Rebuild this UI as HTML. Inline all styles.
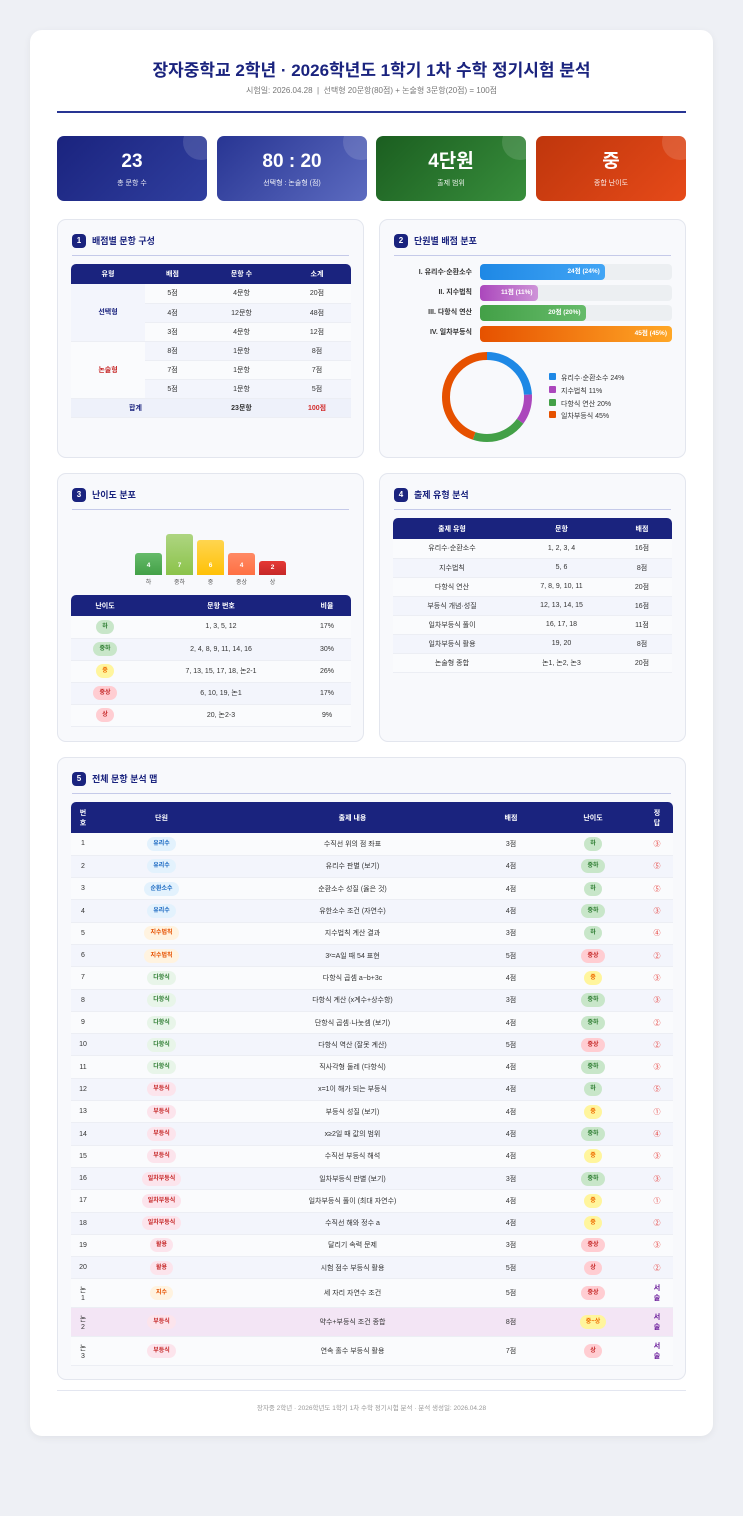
<!DOCTYPE html>
<html><head><meta charset="utf-8">
<style>
*{box-sizing:border-box;margin:0;padding:0}
body{width:743px;height:1516px;background:#eef0f5;font-family:"Liberation Sans","Noto Sans CJK KR",sans-serif;color:#333;position:relative;overflow:hidden}
.card{position:absolute;left:30px;top:30px;width:683px;height:1406px;background:#fff;border-radius:12px;box-shadow:0 2px 8px rgba(0,0,0,.06)}
.abs{position:absolute}
h1{position:absolute;left:0;width:743px;top:56px;text-align:center;font-size:17px;color:#1a237e;font-weight:bold}
.sub{position:absolute;left:0;width:743px;top:85px;text-align:center;font-size:8px;color:#777}
.rule{position:absolute;left:57px;width:629px;top:111px;height:2px;background:#283593}
.stat{position:absolute;top:136px;width:150px;height:65px;border-radius:7px;color:#fff;text-align:center;overflow:hidden}
.stat b{display:block;margin-top:15px;font-size:19px;line-height:22px}
.stat span{display:block;font-size:7px;margin-top:5px;opacity:.9}
.stat i{position:absolute;right:-12px;top:-12px;width:36px;height:36px;border-radius:50%;background:rgba(255,255,255,.13)}
.panel{position:absolute;background:#f8f9fc;border:1px solid #e3e6ee;border-radius:9px}
.ph{position:absolute;left:14px;top:14px;font-size:9px;font-weight:bold;color:#1a237e;line-height:14px}
.ph em{display:inline-block;width:14px;height:14px;border-radius:4px;background:#1a237e;color:#fff;font-style:normal;text-align:center;font-size:8px;margin-right:6px;vertical-align:top}
.pl{position:absolute;left:14px;right:14px;top:35px;height:1px;background:#c5cae9}
table{border-collapse:collapse;table-layout:fixed;position:absolute;font-size:7px;text-align:center}
th{background:#1a237e;color:#fff;font-weight:bold}
td{border-bottom:1px solid #eceef4}
tr:nth-child(odd) td{background:#f3f5fc}
tr:nth-child(even) td{background:#fafbfd}
.pill{display:inline-block;border-radius:8px;padding:0 6px;line-height:14px;font-size:6px;font-weight:bold}
.g{background:#c8e6c9;color:#2e7d32}.y{background:#fff59d;color:#ef6c00}.r{background:#ffcdd2;color:#c62828}
.ub{background:#e3f2fd;color:#1565c0}.uo{background:#fff3e0;color:#e65100}.ug{background:#e8f5e9;color:#2e7d32}.ur{background:#fce4ec;color:#c62828}
.ans{color:#e53935;font-size:7px}
</style></head><body>
<div class="card"></div>
<h1>장자중학교 2학년 · 2026학년도 1학기 1차 수학 정기시험 분석</h1>
<div class="sub">시험일: 2026.04.28 &nbsp;|&nbsp; 선택형 20문항(80점) + 논술형 3문항(20점) = 100점</div>
<div class="rule"></div>

<div class="stat" style="left:57px;background:linear-gradient(135deg,#1a237e,#303f9f)"><i></i><b>23</b><span>총 문항 수</span></div>
<div class="stat" style="left:217px;background:linear-gradient(135deg,#283593,#5c6bc0)"><i></i><b>80 : 20</b><span>선택형 : 논술형 (점)</span></div>
<div class="stat" style="left:376px;background:linear-gradient(135deg,#1b5e20,#388e3c)"><i></i><b>4단원</b><span>출제 범위</span></div>
<div class="stat" style="left:536px;background:linear-gradient(135deg,#bf360c,#e64a19)"><i></i><b>중</b><span>종합 난이도</span></div>

<!-- Panel 1 -->
<div class="panel" style="left:57px;top:219px;width:307px;height:239px">
<div class="ph"><em>1</em>배점별 문항 구성</div><div class="pl"></div>
<table style="left:13px;top:44px;width:280px">
<colgroup><col style="width:74px"><col style="width:55px"><col style="width:83px"><col style="width:68px"></colgroup>
<tr style="height:20px"><th style="border-radius:5px 0 0 0">유형</th><th>배점</th><th>문항 수</th><th style="border-radius:0 5px 0 0">소계</th></tr>
<tr style="height:19px"><td rowspan="3" style="background:#f3f5fc;color:#1a237e;font-weight:bold">선택형</td><td>5점</td><td>4문항</td><td>20점</td></tr>
<tr style="height:19px"><td>4점</td><td>12문항</td><td>48점</td></tr>
<tr style="height:19px"><td>3점</td><td>4문항</td><td>12점</td></tr>
<tr style="height:19px"><td rowspan="3" style="background:#fafbfd;color:#c62828;font-weight:bold">논술형</td><td>8점</td><td>1문항</td><td>8점</td></tr>
<tr style="height:19px"><td>7점</td><td>1문항</td><td>7점</td></tr>
<tr style="height:19px"><td>5점</td><td>1문항</td><td>5점</td></tr>
<tr style="height:19px;font-weight:bold"><td colspan="2" style="background:#eef1fa;color:#1a237e">합계</td><td style="background:#eef1fa">23문항</td><td style="background:#eef1fa;color:#d32f2f">100점</td></tr>
</table></div>

<!-- Panel 2 -->
<div class="panel" style="left:379px;top:219px;width:307px;height:239px">
<div class="ph"><em>2</em>단원별 배점 분포</div><div class="pl"></div>
</div>
<div class="abs" style="left:380px;top:265px;width:92px;font-size:7px;font-weight:bold;color:#333;text-align:right">
<div style="height:20px;line-height:15px">I. 유리수·순환소수</div>
<div style="height:20px;line-height:15px">II. 지수법칙</div>
<div style="height:20px;line-height:15px">III. 다항식 연산</div>
<div style="height:20px;line-height:15px">IV. 일차부등식</div></div>
<div class="abs" style="left:480px;top:264px;width:192px;font-size:6.5px;font-weight:bold;color:#fff">
<div style="height:16px;margin-bottom:4.5px;background:#eceff2;border-radius:4px"><div style="width:65%;height:16px;border-radius:4px;background:linear-gradient(90deg,#1e88e5,#42a5f5);text-align:right;padding-right:5px;line-height:16px">24점 (24%)</div></div>
<div style="height:16px;margin-bottom:4.5px;background:#eceff2;border-radius:4px"><div style="width:30%;height:16px;border-radius:4px;background:linear-gradient(90deg,#ab47bc,#ce93d8);text-align:right;padding-right:5px;line-height:16px">11점 (11%)</div></div>
<div style="height:16px;margin-bottom:4.5px;background:#eceff2;border-radius:4px"><div style="width:55%;height:16px;border-radius:4px;background:linear-gradient(90deg,#43a047,#66bb6a);text-align:right;padding-right:5px;line-height:16px">20점 (20%)</div></div>
<div style="height:16px;background:#eceff2;border-radius:4px"><div style="width:100%;height:16px;border-radius:4px;background:linear-gradient(90deg,#e65100,#ffa726);text-align:right;padding-right:5px;line-height:16px">45점 (45%)</div></div>
</div>
<svg class="abs" style="left:437px;top:347px" width="100" height="100" viewBox="0 0 100 100">
<g transform="rotate(-90 50 50)" fill="none" stroke-width="8">
<circle cx="50" cy="50" r="41" stroke="#1e88e5" stroke-dasharray="61.83 257.61" stroke-dashoffset="0"/>
<circle cx="50" cy="50" r="41" stroke="#ab47bc" stroke-dasharray="28.34 257.61" stroke-dashoffset="-61.83"/>
<circle cx="50" cy="50" r="41" stroke="#43a047" stroke-dasharray="51.52 257.61" stroke-dashoffset="-90.17"/>
<circle cx="50" cy="50" r="41" stroke="#e65100" stroke-dasharray="115.92 257.61" stroke-dashoffset="-141.69"/>
</g></svg>
<div class="abs" style="left:549px;top:373px;font-size:7px;color:#333;line-height:12.8px">
<div><span style="display:inline-block;width:7px;height:7px;background:#1e88e5;border-radius:1px;margin-right:5px"></span>유리수·순환소수 24%</div>
<div><span style="display:inline-block;width:7px;height:7px;background:#ab47bc;border-radius:1px;margin-right:5px"></span>지수법칙 11%</div>
<div><span style="display:inline-block;width:7px;height:7px;background:#43a047;border-radius:1px;margin-right:5px"></span>다항식 연산 20%</div>
<div><span style="display:inline-block;width:7px;height:7px;background:#e65100;border-radius:1px;margin-right:5px"></span>일차부등식 45%</div>
</div>

<!-- Panel 3 -->
<div class="panel" style="left:57px;top:473px;width:307px;height:269px">
<div class="ph"><em>3</em>난이도 분포</div><div class="pl"></div>
<table style="left:13px;top:121px;width:280px">
<colgroup><col style="width:68px"><col style="width:164px"><col style="width:48px"></colgroup>
<tr style="height:21px"><th style="border-radius:5px 0 0 0">난이도</th><th>문항 번호</th><th style="border-radius:0 5px 0 0">비율</th></tr>
<tr style="height:22px"><td><span class="pill g">하</span></td><td>1, 3, 5, 12</td><td>17%</td></tr>
<tr style="height:22px"><td><span class="pill g">중하</span></td><td>2, 4, 8, 9, 11, 14, 16</td><td>30%</td></tr>
<tr style="height:22px"><td><span class="pill y">중</span></td><td>7, 13, 15, 17, 18, 논2-1</td><td>26%</td></tr>
<tr style="height:22px"><td><span class="pill r">중상</span></td><td>6, 10, 19, 논1</td><td>17%</td></tr>
<tr style="height:22px"><td><span class="pill r">상</span></td><td>20, 논2-3</td><td>9%</td></tr>
</table></div>
<div class="abs" style="left:135px;top:534px;width:160px;height:42px;font-size:6.5px;font-weight:bold;color:#fff">
<div class="abs" style="left:0;top:19px;width:27px;height:22px;border-radius:3px 3px 0 0;background:linear-gradient(#66bb6a,#43a047);text-align:center;line-height:26px">4</div>
<div class="abs" style="left:31px;top:0;width:27px;height:41px;border-radius:3px 3px 0 0;background:linear-gradient(#aed581,#8bc34a);text-align:center;line-height:64px">7</div>
<div class="abs" style="left:62px;top:6px;width:27px;height:35px;border-radius:3px 3px 0 0;background:linear-gradient(#ffd54f,#ffc107);text-align:center;line-height:52px">6</div>
<div class="abs" style="left:93px;top:19px;width:27px;height:22px;border-radius:3px 3px 0 0;background:linear-gradient(#ff8a65,#ff7043);text-align:center;line-height:26px">4</div>
<div class="abs" style="left:124px;top:27px;width:27px;height:14px;border-radius:3px 3px 0 0;background:linear-gradient(#e53935,#c62828);text-align:center;line-height:13px">2</div>
</div>
<div class="abs" style="left:135px;top:577px;font-size:6px;color:#555">
<span class="abs" style="left:0;width:27px;text-align:center">하</span><span class="abs" style="left:31px;width:27px;text-align:center">중하</span><span class="abs" style="left:62px;width:27px;text-align:center">중</span><span class="abs" style="left:93px;width:27px;text-align:center">중상</span><span class="abs" style="left:124px;width:27px;text-align:center">상</span></div>

<!-- Panel 4 -->
<div class="panel" style="left:379px;top:473px;width:307px;height:269px">
<div class="ph"><em>4</em>출제 유형 분석</div><div class="pl"></div>
<table style="left:13px;top:44px;width:279px">
<colgroup><col style="width:118px"><col style="width:101px"><col style="width:60px"></colgroup>
<tr style="height:21px"><th style="border-radius:5px 0 0 0">출제 유형</th><th>문항</th><th style="border-radius:0 5px 0 0">배점</th></tr>
<tr style="height:19px"><td>유리수·순환소수</td><td>1, 2, 3, 4</td><td>16점</td></tr>
<tr style="height:19px"><td>지수법칙</td><td>5, 6</td><td>8점</td></tr>
<tr style="height:19px"><td>다항식 연산</td><td>7, 8, 9, 10, 11</td><td>20점</td></tr>
<tr style="height:19px"><td>부등식 개념·성질</td><td>12, 13, 14, 15</td><td>16점</td></tr>
<tr style="height:19px"><td>일차부등식 풀이</td><td>16, 17, 18</td><td>11점</td></tr>
<tr style="height:19px"><td>일차부등식 활용</td><td>19, 20</td><td>8점</td></tr>
<tr style="height:19px"><td>논술형 종합</td><td>논1, 논2, 논3</td><td>20점</td></tr>
</table></div>

<!-- Panel 5 -->
<div class="panel" style="left:57px;top:757px;width:629px;height:623px">
<div class="ph"><em>5</em>전체 문항 분석 맵</div><div class="pl"></div>
<table style="left:13px;top:44px;width:602px">
<colgroup><col style="width:24px"><col style="width:133px"><col style="width:249px"><col style="width:68px"><col style="width:96px"><col style="width:32px"></colgroup>
<tr style="height:31px"><th style="border-radius:5px 0 0 0">번<br>호</th><th>단원</th><th>출제 내용</th><th>배점</th><th>난이도</th><th style="border-radius:0 5px 0 0">정<br>답</th></tr>
<tr style="height:22.3px"><td>1</td><td><span class="pill ub">유리수</span></td><td>수직선 위의 점 좌표</td><td>3점</td><td><span class="pill g">하</span></td><td class="ans">③</td></tr>
<tr style="height:22.3px"><td>2</td><td><span class="pill ub">유리수</span></td><td>유리수 판별 (보기)</td><td>4점</td><td><span class="pill g">중하</span></td><td class="ans">⑤</td></tr>
<tr style="height:22.3px"><td>3</td><td><span class="pill ub">순환소수</span></td><td>순환소수 성질 (옳은 것)</td><td>4점</td><td><span class="pill g">하</span></td><td class="ans">⑤</td></tr>
<tr style="height:22.3px"><td>4</td><td><span class="pill ub">유리수</span></td><td>유한소수 조건 (자연수)</td><td>4점</td><td><span class="pill g">중하</span></td><td class="ans">③</td></tr>
<tr style="height:22.3px"><td>5</td><td><span class="pill uo">지수법칙</span></td><td>지수법칙 계산 결과</td><td>3점</td><td><span class="pill g">하</span></td><td class="ans">④</td></tr>
<tr style="height:22.3px"><td>6</td><td><span class="pill uo">지수법칙</span></td><td>3ˣ=A일 때 54 표현</td><td>5점</td><td><span class="pill r">중상</span></td><td class="ans">②</td></tr>
<tr style="height:22.3px"><td>7</td><td><span class="pill ug">다항식</span></td><td>다항식 곱셈 a−b+3c</td><td>4점</td><td><span class="pill y">중</span></td><td class="ans">③</td></tr>
<tr style="height:22.3px"><td>8</td><td><span class="pill ug">다항식</span></td><td>다항식 계산 (x계수+상수항)</td><td>3점</td><td><span class="pill g">중하</span></td><td class="ans">③</td></tr>
<tr style="height:22.3px"><td>9</td><td><span class="pill ug">다항식</span></td><td>단항식 곱셈·나눗셈 (보기)</td><td>4점</td><td><span class="pill g">중하</span></td><td class="ans">②</td></tr>
<tr style="height:22.3px"><td>10</td><td><span class="pill ug">다항식</span></td><td>다항식 역산 (잘못 계산)</td><td>5점</td><td><span class="pill r">중상</span></td><td class="ans">②</td></tr>
<tr style="height:22.3px"><td>11</td><td><span class="pill ug">다항식</span></td><td>직사각형 둘레 (다항식)</td><td>4점</td><td><span class="pill g">중하</span></td><td class="ans">③</td></tr>
<tr style="height:22.3px"><td>12</td><td><span class="pill ur">부등식</span></td><td>x=1이 해가 되는 부등식</td><td>4점</td><td><span class="pill g">하</span></td><td class="ans">⑤</td></tr>
<tr style="height:22.3px"><td>13</td><td><span class="pill ur">부등식</span></td><td>부등식 성질 (보기)</td><td>4점</td><td><span class="pill y">중</span></td><td class="ans">①</td></tr>
<tr style="height:22.3px"><td>14</td><td><span class="pill ur">부등식</span></td><td>x≥2일 때 값의 범위</td><td>4점</td><td><span class="pill g">중하</span></td><td class="ans">④</td></tr>
<tr style="height:22.3px"><td>15</td><td><span class="pill ur">부등식</span></td><td>수직선 부등식 해석</td><td>4점</td><td><span class="pill y">중</span></td><td class="ans">③</td></tr>
<tr style="height:22.3px"><td>16</td><td><span class="pill ur">일차부등식</span></td><td>일차부등식 판별 (보기)</td><td>3점</td><td><span class="pill g">중하</span></td><td class="ans">③</td></tr>
<tr style="height:22.3px"><td>17</td><td><span class="pill ur">일차부등식</span></td><td>일차부등식 풀이 (최대 자연수)</td><td>4점</td><td><span class="pill y">중</span></td><td class="ans">①</td></tr>
<tr style="height:22.3px"><td>18</td><td><span class="pill ur">일차부등식</span></td><td>수직선 해와 정수 a</td><td>4점</td><td><span class="pill y">중</span></td><td class="ans">②</td></tr>
<tr style="height:22.3px"><td>19</td><td><span class="pill ur">활용</span></td><td>달리기 속력 문제</td><td>3점</td><td><span class="pill r">중상</span></td><td class="ans">③</td></tr>
<tr style="height:22.3px"><td>20</td><td><span class="pill ur">활용</span></td><td>시험 점수 부등식 활용</td><td>5점</td><td><span class="pill r">상</span></td><td class="ans">②</td></tr>
<tr style="height:29px"><td>논<br>1</td><td><span class="pill uo">지수</span></td><td>세 자리 자연수 조건</td><td>5점</td><td><span class="pill r">중상</span></td><td style="color:#6a1b9a;font-weight:bold">서<br>술</td></tr>
<tr style="height:29px"><td style="background:#f3e5f5">논<br>2</td><td style="background:#f3e5f5"><span class="pill ur">부등식</span></td><td style="background:#f3e5f5">약수+부등식 조건 종합</td><td style="background:#f3e5f5">8점</td><td style="background:#f3e5f5"><span class="pill y">중~상</span></td><td style="background:#f3e5f5;color:#6a1b9a;font-weight:bold">서<br>술</td></tr>
<tr style="height:29px"><td>논<br>3</td><td><span class="pill ur">부등식</span></td><td>연속 홀수 부등식 활용</td><td>7점</td><td><span class="pill r">상</span></td><td style="color:#6a1b9a;font-weight:bold">서<br>술</td></tr>
</table></div>

<div class="abs" style="left:57px;top:1390px;width:629px;height:1px;background:#e3e6f0"></div>
<div class="abs" style="left:0;width:743px;top:1402px;text-align:center;font-size:6.5px;color:#999">장자중 2학년 · 2026학년도 1학기 1차 수학 정기시험 분석 · 분석 생성일: 2026.04.28</div>
</body></html>
